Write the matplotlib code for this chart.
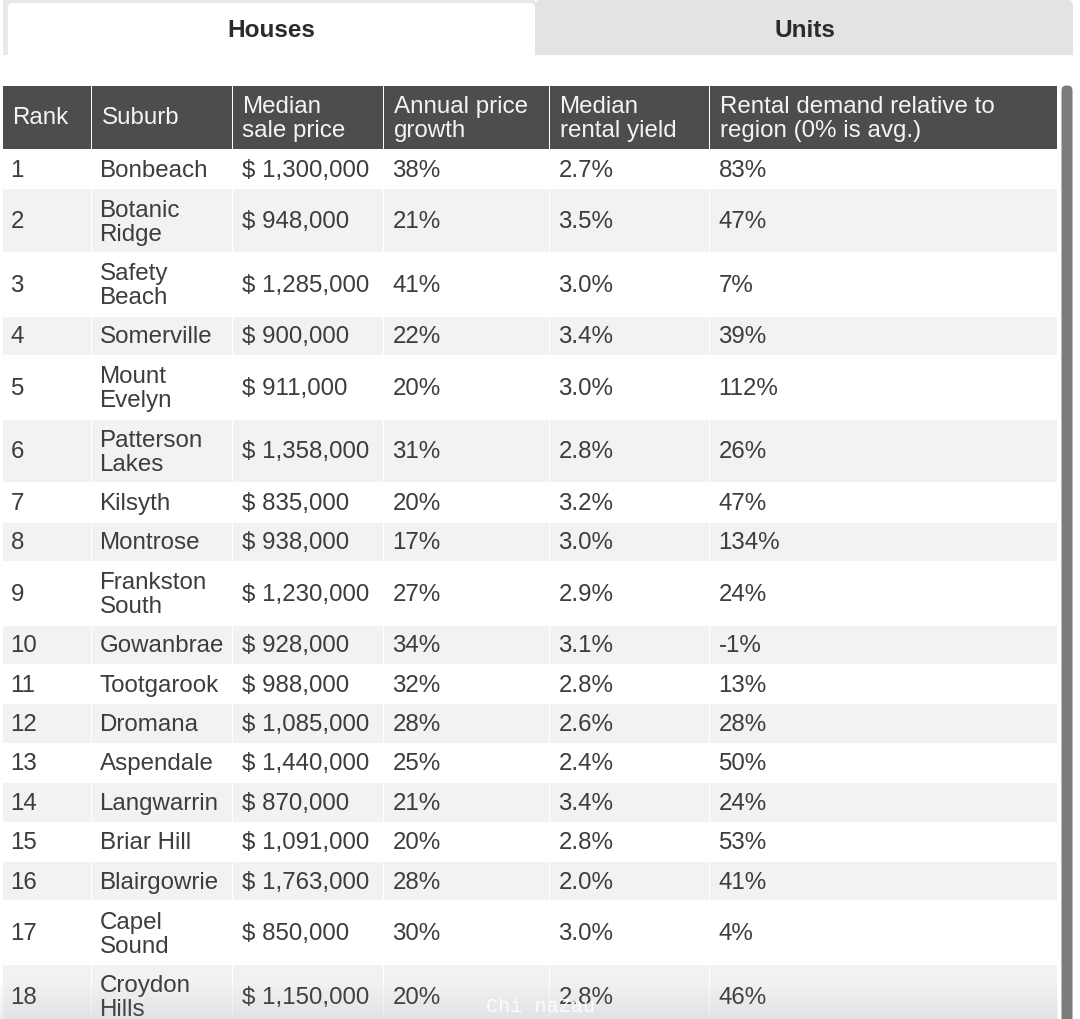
import numpy as np
import matplotlib
matplotlib.use('Agg')
import matplotlib.pyplot as plt
from matplotlib.patches import Rectangle, FancyBboxPatch

plt.rcParams['font.family'] = ['Liberation Sans', 'DejaVu Sans']
plt.rcParams['text.hinting'] = 'native'

# Table contents
tabs = ['Houses', 'Units']
headers = ['Rank', 'Suburb', 'Median\nsale price', 'Annual price\ngrowth',
           'Median\nrental yield', 'Rental demand relative to\nregion (0% is avg.)']
suburbs = ['Bonbeach', 'Botanic\nRidge', 'Safety\nBeach', 'Somerville', 'Mount\nEvelyn',
           'Patterson\nLakes', 'Kilsyth', 'Montrose', 'Frankston\nSouth', 'Gowanbrae',
           'Tootgarook', 'Dromana', 'Aspendale', 'Langwarrin', 'Briar Hill',
           'Blairgowrie', 'Capel\nSound', 'Croydon\nHills']
prices = [1300000, 948000, 1285000, 900000, 911000, 1358000, 835000, 938000, 1230000,
          928000, 988000, 1085000, 1440000, 870000, 1091000, 1763000, 850000, 1150000]
growth = [38, 21, 41, 22, 20, 31, 20, 17, 27, 34, 32, 28, 25, 21, 20, 28, 30, 20]
yields = [2.7, 3.5, 3.0, 3.4, 3.0, 2.8, 3.2, 3.0, 2.9, 3.1, 2.8, 2.6, 2.4, 3.4, 2.8, 2.0, 3.0, 2.8]
demand = [83, 47, 7, 39, 112, 26, 47, 134, 24, -1, 13, 28, 50, 24, 53, 41, 4, 46]

W, H = 1080, 1019
col_edges = [3, 92, 233, 384, 550, 710, 1058]
text_color = '#3d3d3d'
header_color = '#4d4d4d'
stripe_color = '#f1f2f4'
fs = 17.4

fig = plt.figure(figsize=(W / 100, H / 100), dpi=100)
ax = fig.add_axes([0, 0, 1, 1])
ax.set_xlim(0, W)
ax.set_ylim(H, 0)
ax.axis('off')

# Tabs
ax.add_patch(Rectangle((3, 0), 532, 55, fc='#e9e9e9', ec='none'))
ax.add_patch(FancyBboxPatch((535, 0), 538, 70, boxstyle='round,pad=0,rounding_size=5',
                            fc='#e3e3e3', ec='none'))
ax.add_patch(FancyBboxPatch((8, 3), 527, 70, boxstyle='round,pad=0,rounding_size=5',
                            fc='white', ec='none'))
ax.add_patch(Rectangle((0, 55), W, 30, fc='white', ec='none'))
ax.text(271, 36.5, tabs[0], ha='center', va='baseline', fontsize=17.6, fontweight='bold', color='#2b2b2b')
ax.text(805, 36.5, tabs[1], ha='center', va='baseline', fontsize=17.6, fontweight='bold', color='#2b2b2b')

# Header row
head_top, head_bottom = 85.5, 149
for i, label in enumerate(headers):
    x0, x1 = col_edges[i], col_edges[i + 1]
    ax.add_patch(Rectangle((x0, head_top), x1 - x0 - 1.5, head_bottom - head_top, fc=header_color, ec='none'))
    yc = (head_top + head_bottom) / 2
    if '\n' in label:
        first, second = label.split('\n')
        ax.text(x0 + 9.5, round(yc - 4.3), first, va='baseline', fontsize=fs, color='#f4f4f4')
        ax.text(x0 + 9.5, round(yc + 19.7), second, va='baseline', fontsize=fs, color='#f4f4f4')
    else:
        ax.text(x0 + 9.5, round(yc + 7), label, va='baseline', fontsize=fs, color='#f4f4f4')

# Body rows, height follows the number of lines in the suburb name
y = 150
for i, name in enumerate(suburbs):
    two_lines = '\n' in name
    h = 63.6 if two_lines else 39.4
    yc = y + h / 2
    if i % 2 == 1:
        for c in range(6):
            ax.add_patch(Rectangle((col_edges[c], y), col_edges[c + 1] - col_edges[c] - 1.5, h - 1,
                                   fc=stripe_color, ec='none'))
    row = [str(i + 1), name, f'$ {prices[i]:,}', f'{growth[i]}%', f'{yields[i]:.1f}%', f'{demand[i]}%']
    for c, val in enumerate(row):
        x = col_edges[c] + 8.5
        if c <= 1:
            x = col_edges[c] + 7.5
        if c == 1 and two_lines:
            first, second = val.split('\n')
            ax.text(x, round(yc - 4.5), first, va='baseline', fontsize=fs, color=text_color)
            ax.text(x, round(yc + 19.5), second, va='baseline', fontsize=fs, color=text_color)
        else:
            ax.text(x, round(yc + 7), val, va='baseline', fontsize=fs, color=text_color)
    y += h

# Scrollbar
ax.add_patch(FancyBboxPatch((1061.5, 85.5), 11, 980, boxstyle='round,pad=0,rounding_size=5',
                            fc='#7c7c7c', ec='none'))

# Fade at the bottom edge
fade = np.zeros((40, 1, 4))
fade[:, :, :3] = 0.55
fade[:, 0, 3] = np.linspace(0, 0.15, 40)
ax.imshow(fade, extent=(0, 1058, H, 979), aspect='auto', zorder=4, interpolation='bilinear')
ax.set_xlim(0, W)
ax.set_ylim(H, 0)

# Watermark
ax.text(540.5, 1007, 'Chi naZau', ha='center', va='center', fontsize=14.5,
        family='Liberation Mono', color='white', alpha=0.9, zorder=5)

fig.savefig('out.png', dpi=100, facecolor='white')
